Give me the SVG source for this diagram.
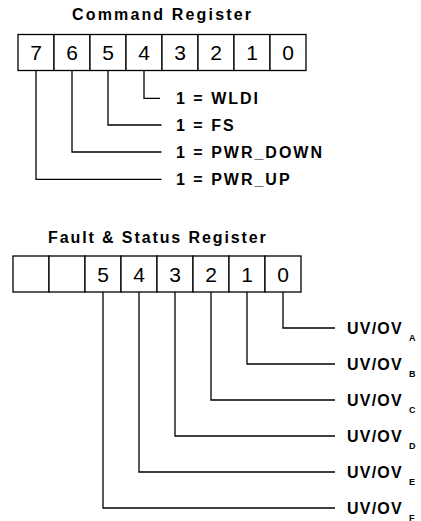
<svg xmlns="http://www.w3.org/2000/svg" width="421" height="521" viewBox="0 0 421 521">
<style>
  .cell { fill: #fff; stroke: #000; stroke-width: 1.3; }
  .dig { font-family: "Liberation Sans", Arial, sans-serif; font-size: 21px; fill: #000; text-anchor: middle; }
  .lbl { font-family: "Liberation Sans", Arial, sans-serif; font-size: 16px; font-weight: bold; fill: #000; letter-spacing: 2px; }
  .uv { font-family: "Liberation Sans", Arial, sans-serif; font-size: 16px; font-weight: bold; fill: #000; letter-spacing: 1.2px; }
  .sub { font-size: 9px; letter-spacing: 0; }
  .conn { fill: none; stroke: #000; stroke-width: 1.3; }
</style>
<rect width="421" height="521" fill="#fff"/>

<g id="cmd-title"><text class="lbl" x="72" y="20" style="letter-spacing:2.15px">Command Register</text></g>

<g id="cmd-register">
  <rect class="cell" x="18" y="34.5" width="36" height="36"/>
  <rect class="cell" x="54" y="34.5" width="36" height="36"/>
  <rect class="cell" x="90" y="34.5" width="36" height="36"/>
  <rect class="cell" x="126" y="34.5" width="36" height="36"/>
  <rect class="cell" x="162" y="34.5" width="36" height="36"/>
  <rect class="cell" x="198" y="34.5" width="36" height="36"/>
  <rect class="cell" x="234" y="34.5" width="36" height="36"/>
  <rect class="cell" x="270" y="34.5" width="36" height="36"/>
  <text class="dig" x="36" y="60">7</text>
  <text class="dig" x="72" y="60">6</text>
  <text class="dig" x="108" y="60">5</text>
  <text class="dig" x="144" y="60">4</text>
  <text class="dig" x="180" y="60">3</text>
  <text class="dig" x="216" y="60">2</text>
  <text class="dig" x="252" y="60">1</text>
  <text class="dig" x="288" y="60">0</text>
</g>

<g id="lbl-wldi"><text class="lbl" x="176" y="104">1 = WLDI</text></g>
<g id="lbl-fs"><text class="lbl" x="176" y="131">1 = FS</text></g>
<g id="lbl-pwrdown"><text class="lbl" x="176" y="158">1 = PWR_DOWN</text></g>
<g id="lbl-pwrup"><text class="lbl" x="176" y="185">1 = PWR_UP</text></g>

<g id="fs-title"><text class="lbl" x="48" y="243" style="letter-spacing:1.9px">Fault &amp; Status Register</text></g>

<g id="fs-register">
  <rect class="cell" x="13" y="256" width="36" height="36"/>
  <rect class="cell" x="49" y="256" width="36" height="36"/>
  <rect class="cell" x="85" y="256" width="36" height="36"/>
  <rect class="cell" x="121" y="256" width="36" height="36"/>
  <rect class="cell" x="157" y="256" width="36" height="36"/>
  <rect class="cell" x="193" y="256" width="36" height="36"/>
  <rect class="cell" x="229" y="256" width="36" height="36"/>
  <rect class="cell" x="265" y="256" width="36" height="36"/>
  <text class="dig" x="103" y="281.5">5</text>
  <text class="dig" x="139" y="281.5">4</text>
  <text class="dig" x="175" y="281.5">3</text>
  <text class="dig" x="211" y="281.5">2</text>
  <text class="dig" x="247" y="281.5">1</text>
  <text class="dig" x="283" y="281.5">0</text>
</g>

<g id="lbl-uvova"><text class="uv" x="347" y="334">UV/OV<tspan class="sub" x="409" y="341">A</tspan></text></g>
<g id="lbl-uvovb"><text class="uv" x="347" y="370">UV/OV<tspan class="sub" x="409" y="377">B</tspan></text></g>
<g id="lbl-uvovc"><text class="uv" x="347" y="406">UV/OV<tspan class="sub" x="409" y="413">C</tspan></text></g>
<g id="lbl-uvovd"><text class="uv" x="347" y="442">UV/OV<tspan class="sub" x="409" y="449">D</tspan></text></g>
<g id="lbl-uvove"><text class="uv" x="347" y="478">UV/OV<tspan class="sub" x="409" y="485">E</tspan></text></g>
<g id="lbl-uvovf"><text class="uv" x="347" y="514">UV/OV<tspan class="sub" x="409" y="520.5">F</tspan></text></g>

<g id="connectors">
  <path class="conn" d="M144 70.5 V98.3 H160"/>
  <path class="conn" d="M108 70.5 V125 H161.5"/>
  <path class="conn" d="M72 70.5 V152 H161.5"/>
  <path class="conn" d="M36 70.5 V179.3 H161.5"/>
  <path class="conn" d="M283 292 V328 H335"/>
  <path class="conn" d="M247 292 V364 H335"/>
  <path class="conn" d="M211 292 V400 H335"/>
  <path class="conn" d="M175 292 V436 H335"/>
  <path class="conn" d="M139 292 V472 H335"/>
  <path class="conn" d="M103 292 V508 H335"/>
</g>
</svg>
